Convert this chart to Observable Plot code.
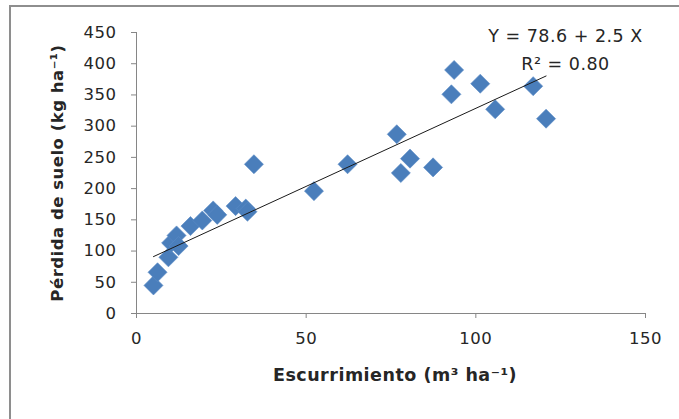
<!DOCTYPE html>
<html><head><meta charset="utf-8">
<script src="https://cdn.jsdelivr.net/npm/d3@7"></script>
<script src="https://cdn.jsdelivr.net/npm/@observablehq/plot@0.6"></script>
<style>
body{margin:0;background:#fff;}
#wrap{position:relative;width:679px;height:419px;overflow:hidden;background:#fff;}
#border{position:absolute;left:9px;top:5px;width:800px;height:800px;border:2px solid #8e8e8e;box-sizing:border-box;}
#chart{position:absolute;left:0;top:0;}
</style></head><body>
<div id="wrap"><div id="border"></div><div id="chart"></div></div>
<script>
const escurrimiento = [5.0, 6.2, 9.4, 10.2, 11.8, 12.4, 15.9, 19.4, 22.6, 23.8, 29.2, 32.2, 32.7, 34.6, 52.3, 62.2, 76.7, 77.9, 80.6, 87.4, 92.8, 93.6, 101.3, 105.7, 116.9, 120.7];
const perdida = [45, 66, 90, 113, 125, 108, 140, 149, 165, 158, 172, 168, 163, 239, 196, 239, 287, 225, 248, 234, 351, 390, 368, 327, 364, 312];
const xTicks = [0, 50, 100, 150];
const yTicks = [0, 50, 100, 150, 200, 250, 300, 350, 400, 450];
const intercept = 78.6;
const slope = 2.5;
const r2 = 0.80;
const xLabel = "Escurrimiento (m³ ha⁻¹)";
const yLabel = "Pérdida de suelo (kg ha⁻¹)";

const data = escurrimiento.map((x, i) => ({x, y: perdida[i]}));
const trend = d3.extent(escurrimiento).map(x => ({x, y: intercept + slope * x}));
const eqLines = [`Y = ${intercept} + ${slope} X`, `R² = ${r2.toFixed(2)}`];

const axisColor = "#868686";
const textColor = "#262626";

const chart = Plot.plot({
  width: 679, height: 419,
  marginLeft: 136, marginRight: 34, marginTop: 32, marginBottom: 106,
  style: {fontFamily: "DejaVu Sans", fontSize: "16px", color: textColor, background: "transparent", overflow: "visible", letterSpacing: "0.5px"},
  x: {domain: [0, 150]},
  y: {domain: [0, 450]},
  marks: [
    Plot.axisY({ticks: yTicks, tickSize: 5, tickPadding: 15, stroke: axisColor, fill: textColor, label: null, fontSize: 16.5}),
    Plot.axisX({ticks: xTicks, tickSize: 5, tickPadding: 14, stroke: axisColor, fill: textColor, label: null, fontSize: 16.5}),
    Plot.ruleX([0], {stroke: axisColor}),
    Plot.ruleY([0], {stroke: axisColor}),
    Plot.dot(data, {x: "x", y: "y", symbol: "diamond2", r: 8.6, fill: "#4a7ebb", stroke: "#5b8cc6", strokeWidth: 0.6}),
    Plot.line(trend, {x: "x", y: "y", stroke: "#1a1a1a", strokeWidth: 1}),
    Plot.text([yLabel], {frameAnchor: "left", textAnchor: "middle", rotate: -90, dx: -79, fontWeight: "bold", fontSize: 16.5, fill: textColor}),
    Plot.text([xLabel], {frameAnchor: "bottom", textAnchor: "middle", dx: 4, dy: 67, fontWeight: "bold", fontSize: 17.5, fill: textColor}),
    Plot.text([eqLines[0]], {frameAnchor: "top-right", dx: -80, dy: -3, textAnchor: "middle", fontSize: 17.5, fill: textColor}),
    Plot.text([eqLines[1]], {frameAnchor: "top-right", dx: -80, dy: 25, textAnchor: "middle", fontSize: 17.5, fill: textColor})
  ]
});
document.getElementById("chart").appendChild(chart);
</script>
</body></html>
